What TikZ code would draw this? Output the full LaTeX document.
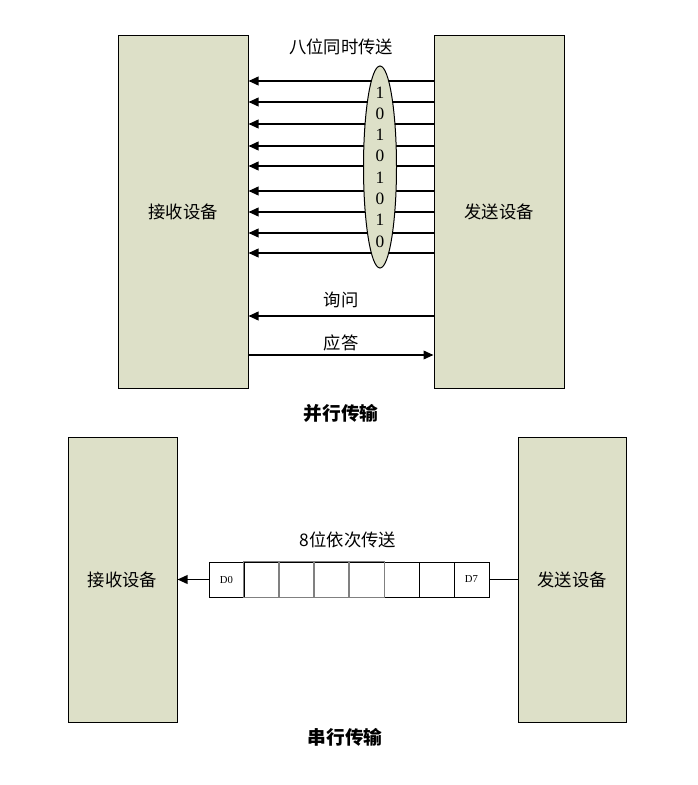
\documentclass[tikz,border=0pt]{standalone}
\usepackage{fontspec}
\setmainfont{Liberation Serif}
\newfontfamily\cjk{Noto Sans CJK SC}
\usetikzlibrary{arrows.meta}
\usetikzlibrary{shapes.geometric}
\usetikzlibrary{positioning}
\definecolor{devfill}{RGB}{221,224,200}

\begin{document}
\begin{tikzpicture}[x=0.75pt, y=-0.75pt,
        device/.style={draw, fill=devfill, line width=0.75pt, inner sep=0pt, font=\cjk\fontsize{13}{15}\selectfont},
        wire/.style={line width=1.2pt, -{Triangle[length=7.5pt, width=6.5pt]}},
        lbl/.style={inner sep=1pt, font=\cjk\fontsize{13}{15}\selectfont},
        caption/.style={inner sep=1pt, font=\cjk\bfseries\fontsize{14}{16}\selectfont},
        cell/.style={draw, line width=0.75pt, minimum width=26.25pt, minimum height=26.25pt, inner sep=0pt, font=\fontsize{8}{9}\selectfont}]
            \useasboundingbox (0,0) rectangle (697,785);
            \node[device, minimum width=97.5pt, minimum height=264.75pt] (recvA) at (183,211.5) {接收设备};
            \node[device, minimum width=97.5pt, minimum height=264.75pt] (sendA) at (499,211.5) {发送设备};
            \foreach \y in {81,102,124,146,166,191,212,233,253}
                \draw[wire] (sendA.west |- 0,\y) -- (recvA.east |- 0,\y);
            \node[draw, ellipse, fill=devfill, line width=0.75pt, minimum width=24.75pt, minimum height=151.5pt] (bits) at (380,167) {};
            \foreach \b [count=\i] in {1,0,1,0,1,0,1,0}
                \node[font=\fontsize{13}{15}\selectfont, inner sep=0pt] (bit\i) at (380,{71+21.3*\i}) {\b};
            \node[lbl] (parTitle) at (341,47) {八位同时传送};
            \coordinate (askY) at (0,316);
            \coordinate (ackY) at (0,355);
            \draw[wire] (sendA.west |- askY) -- (recvA.east |- askY);
            \draw[wire] (recvA.east |- ackY) -- (sendA.west |- ackY);
            \node[lbl] (askLbl) at (341,300) {询问};
            \node[lbl] (ackLbl) at (341,343) {应答};
            \node[caption] (parCap) at (341,413) {并行传输};

            \node[device, minimum width=81.75pt, minimum height=213.75pt] (recvB) at (122.5,579.5) {接收设备};
            \node[device, minimum width=81pt, minimum height=213.75pt] (sendB) at (572,579.5) {发送设备};
            \foreach \i in {1,...,8}
                \node[cell] (c\i) at ({191.5+35*\i},579.5) {};
            \foreach \i in {2,...,5}
                \draw[gray, line width=0.75pt] (c\i.south west) rectangle (c\i.north east);
            \node[font=\fontsize{8}{9}\selectfont] at (c1) {D0};
            \node[font=\fontsize{8}{9}\selectfont] at (c8) {D7};
            \draw[wire] (c1.west) -- (recvB.east);
            \draw[line width=1.2pt] (c8.east) -- (sendB.west);
            \node[lbl] (serTitle) at (348,540) {8位依次传送};
            \node[caption] (serCap) at (345,737) {串行传输};
        \end{tikzpicture}
\end{document}
